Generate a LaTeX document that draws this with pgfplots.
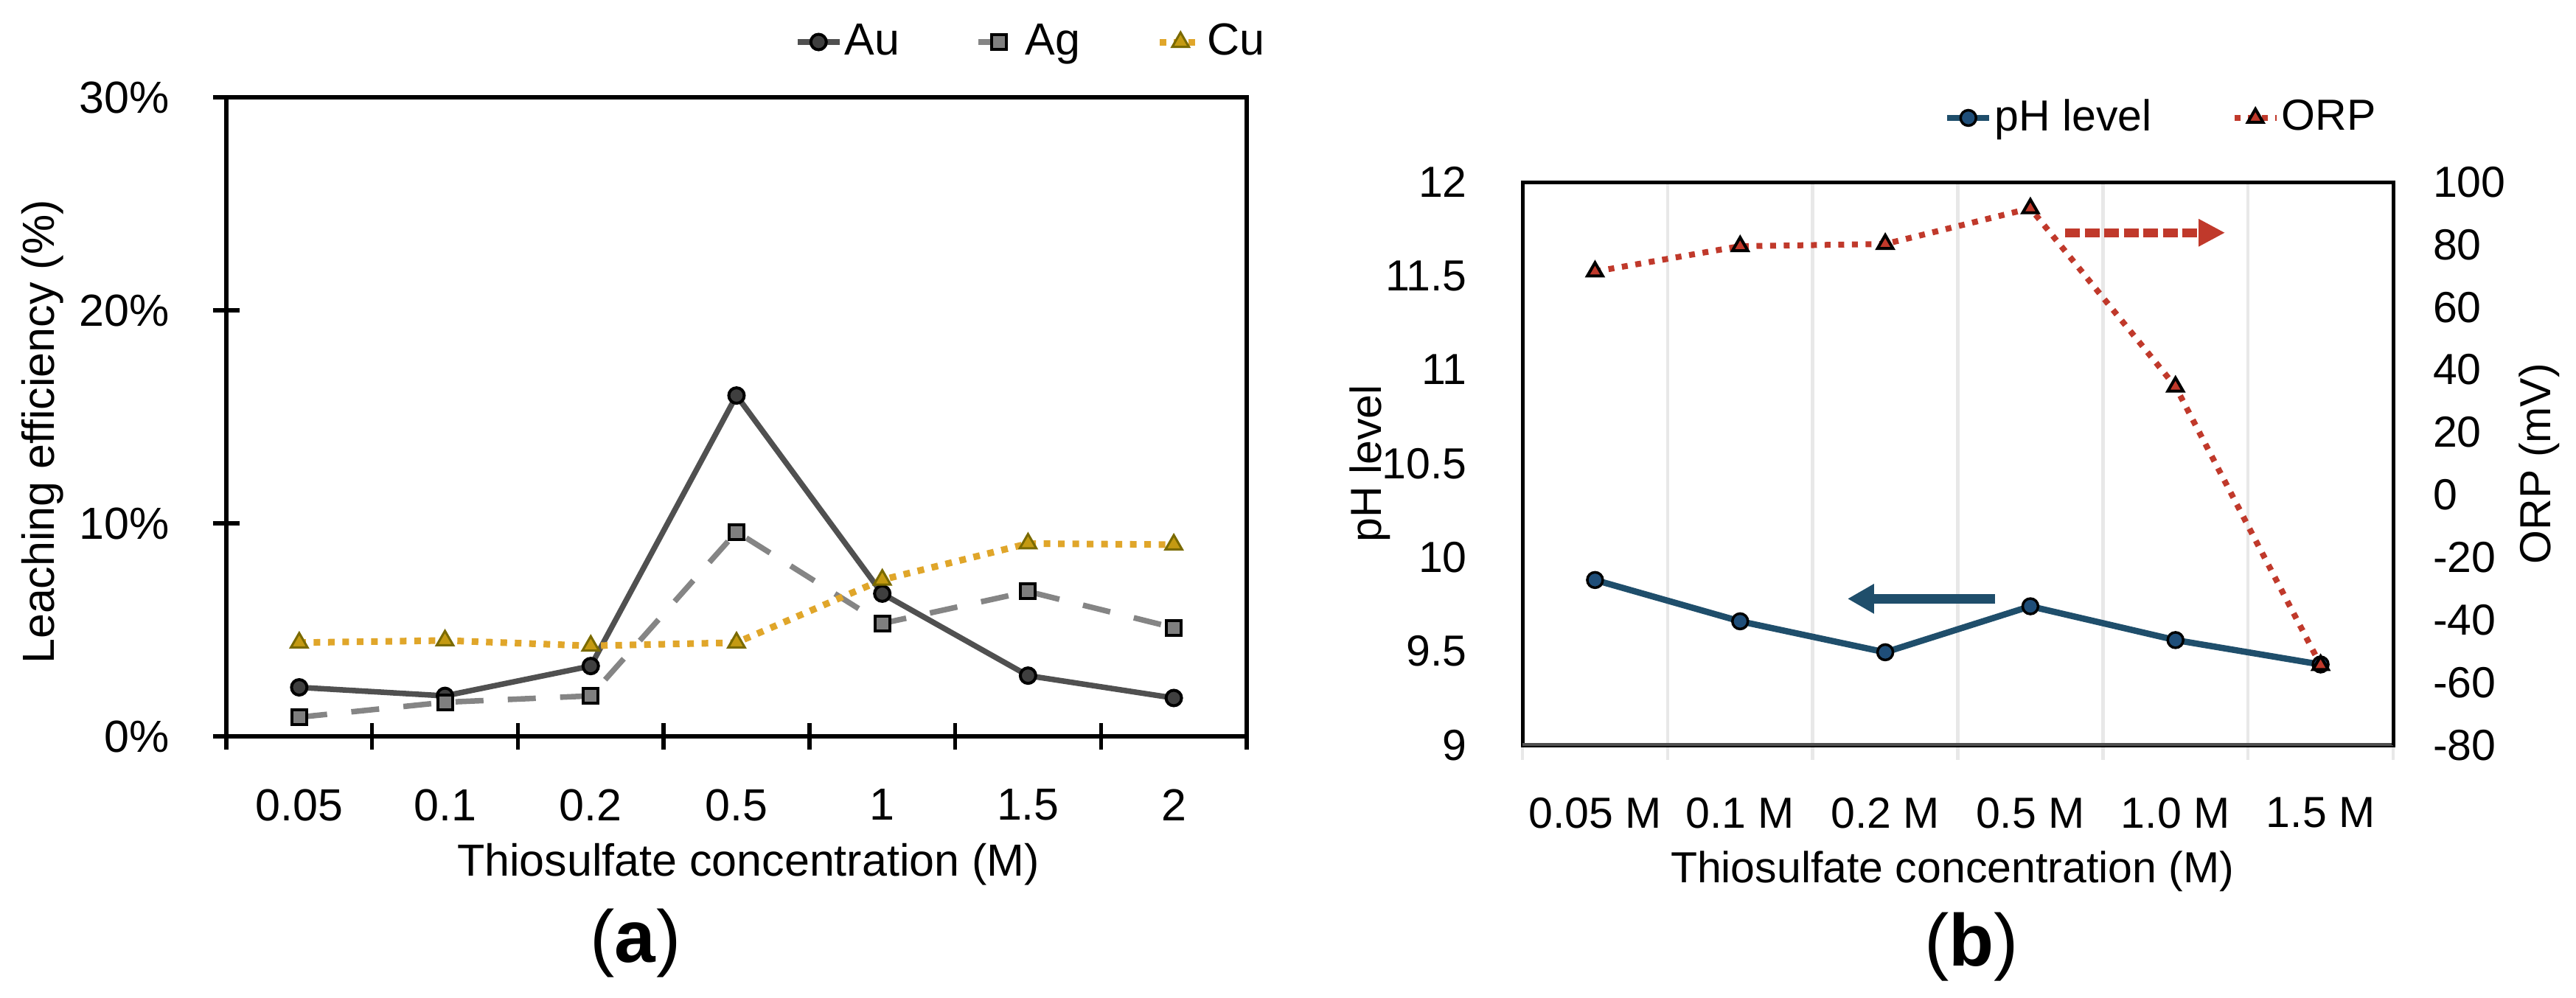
\documentclass[border=0pt]{standalone}
\usepackage{fontspec}
\setmainfont{Liberation Sans}
\usepackage{pgfplots}
\pgfplotsset{compat=1.18}
\usetikzlibrary{arrows.meta}
\definecolor{aul}{HTML}{505050}
\definecolor{auf}{HTML}{3F3F3F}
\definecolor{agl}{HTML}{858585}
\definecolor{agf}{HTML}{7F7F7F}
\definecolor{cul}{HTML}{E0A62A}
\definecolor{cuf}{HTML}{C49A12}
\definecolor{cud}{HTML}{7A6A00}
\definecolor{phc}{HTML}{1F4E6B}
\definecolor{phf}{HTML}{1F4E79}
\definecolor{orpc}{HTML}{C0392B}
\newcommand{\fa}{\fontsize{12.2}{14}\selectfont}
\newcommand{\fb}{\fontsize{11.8}{14}\selectfont}
\pgfplotsset{
  myleg/.style={legend image code/.code={\draw[mark repeat=2,mark phase=2,##1] plot coordinates {(0pt,0pt) (5.7pt,0pt) (11.4pt,0pt)};}},
}
\begin{document}
\begin{tikzpicture}
\useasboundingbox (0,0) rectangle (698.8pt,270.6pt);
% ---------------- (a) ----------------
\begin{axis}[
  at={(61.4pt,70.8pt)}, anchor=south west,
  scale only axis, width=276.8pt, height=173.4pt,
  xmin=-0.5, xmax=6.5, ymin=0, ymax=30,
  xtick={0,...,6}, xticklabels={0.05,0.1,0.2,0.5,1,1.5,2},
  minor xtick={-0.5,0.5,...,6.5},
  ytick={0,10,20,30}, yticklabels={0\%,10\%,20\%,30\%},
  xtick pos=left, ytick pos=left, tick align=center,
  major x tick style={draw=none},
  minor x tick style={black, line width=1.1pt},
  minor tick length=7.2pt, major tick length=7.2pt,
  y tick style={black, line width=1.1pt},
  axis line style={line width=1.2pt},
  /pgf/number format/assume math mode=true,
  xticklabel style={font=\fa, anchor=north, inner sep=0pt, yshift=-10.6pt},
  yticklabel style={font=\fa, anchor=east, inner sep=0pt, xshift=-11.6pt},
  xlabel={Thiosulfate concentration (M)},
  xlabel style={font=\fa, at={(axis description cs:0.5116,-0.218)}, anchor=base},
  ylabel={Leaching efficiency (\%)},
  ylabel style={font=\fa, at={(axis description cs:-0.1799,0.4763)}, anchor=center, rotate=0},
  myleg,
  legend columns=3,
  legend style={draw=none, fill=none, font=\fa, at={(rel axis cs:0.5564,1.0865)}, anchor=west,
    inner sep=0pt, nodes={inner sep=0.6pt}, cells={anchor=west},
    /tikz/every even column/.append style={column sep=20pt}},
]
\addplot[aul, line width=1.5pt, mark=*, mark size=2.1pt, mark options={fill=auf, draw=black, line width=0.8pt, solid}]
  coordinates {(0,2.3) (1,1.9) (2,3.3) (3,16.0) (4,6.7) (5,2.85) (6,1.8)};
\addlegendentry{Au}
\addplot[agl, line width=1.5pt, dash pattern=on 7.6pt off 6.6pt, mark=square*, mark size=2pt, mark options={fill=agf, draw=black, line width=0.8pt, solid}]
  coordinates {(0,0.9) (1,1.6) (2,1.9) (3,9.6) (4,5.3) (5,6.8) (6,5.1)};
\addlegendentry{Ag}
\addplot[cul, line width=1.8pt, dash pattern=on 1.8pt off 2.1pt, mark=triangle*, mark size=2.6pt, mark options={fill=cuf, draw=cud, line width=0.6pt, solid}]
  coordinates {(0,4.4) (1,4.5) (2,4.25) (3,4.4) (4,7.35) (5,9.05) (6,9.0)};
\addlegendentry{Cu}
\end{axis}
\node[font=\fontsize{20}{22}\selectfont, anchor=center] at (172.4pt,14.6pt) {(\textbf{a})};
% ---------------- (b) ----------------
\begin{axis}[
  at={(413pt,68.4pt)}, anchor=south west,
  scale only axis, width=236.2pt, height=152.8pt,
  xmin=-0.5, xmax=5.5, ymin=9, ymax=12,
  xtick={0,...,5}, xticklabels={0.05 M,0.1 M,0.2 M,0.5 M,1.0 M,1.5 M},
  minor xtick={-0.5,0.5,...,5.5},
  xminorgrids=true, minor grid style={black!9, line width=0.9pt},
  ytick={9,9.5,10,10.5,11,11.5,12}, yticklabels={9,9.5,10,10.5,11,11.5,12},
  xtick pos=left, ytick pos=left, tick align=outside,
  major x tick style={draw=none},
  minor x tick style={black!9, line width=0.9pt},
  minor tick length=4pt,
  y tick style={draw=none},
  axis line style={line width=1pt},
  /pgf/number format/assume math mode=true,
  xticklabel style={font=\fb, anchor=north, inner sep=0pt, yshift=-9.8pt},
  yticklabel style={font=\fb, anchor=east, inner sep=0pt, xshift=-10.6pt},
  xlabel={Thiosulfate concentration (M)},
  xlabel style={font=\fb, at={(axis description cs:0.4937,-0.2435)}, anchor=base},
  ylabel={pH level},
  ylabel style={font=\fb, at={(axis description cs:-0.1753,0.5)}, anchor=center, rotate=0},
]
\addplot[phc, line width=1.7pt, mark=*, mark size=2.1pt, mark options={fill=phf, draw=black, line width=0.7pt, solid}]
  coordinates {(0,9.88) (1,9.66) (2,9.495) (3,9.74) (4,9.56) (5,9.43)};
\draw[phc, line width=2.7pt, -{Triangle[length=7.2pt,width=7.6pt]}] (axis cs:2.757,9.78) -- (axis cs:1.74,9.78);
\draw[aul, line width=1.3pt] (rel axis cs:0,0) -- (rel axis cs:1,0);
\end{axis}
\begin{axis}[
  at={(413pt,68.4pt)}, anchor=south west,
  scale only axis, width=236.2pt, height=152.8pt,
  xmin=-0.5, xmax=5.5, ymin=-80, ymax=100,
  axis x line=none, axis y line*=right,
  ytick={-80,-60,...,100}, yticklabels={-80,-60,-40,-20,0,20,40,60,80,100},
  y tick style={draw=none},
  axis line style={line width=1pt},
  /pgf/number format/assume math mode=true,
  yticklabel style={font=\fb, anchor=west, inner sep=0pt, xshift=10.6pt},
  ylabel={ORP (mV)},
  ylabel style={font=\fb, at={(axis description cs:1.168,0.5)}, anchor=center, rotate=0},
  myleg,
  legend columns=2,
  legend style={draw=none, fill=none, font=\fb, at={(rel axis cs:0.4835,1.1139)}, anchor=west,
    inner sep=0pt, nodes={inner sep=0.6pt}, cells={anchor=west},
    /tikz/every even column/.append style={column sep=21pt}},
]
\addlegendimage{phc, line width=1.7pt, mark=*, mark size=2.1pt, mark options={fill=phf, draw=black, line width=0.7pt, solid}}
\addlegendentry{pH level}
\addplot[orpc, line width=1.6pt, dash pattern=on 1.6pt off 2.1pt, mark=triangle*, mark size=2.4pt, mark options={fill=orpc, draw=black, line width=0.8pt, solid}]
  coordinates {(0,71.4) (1,79.5) (2,80.2) (3,91.6) (4,34.6) (5,-54.4)};
\addlegendentry{ORP}
\draw[orpc, line width=2.4pt, dash pattern=on 4pt off 1.3pt, -{Triangle[length=7.2pt,width=7pt]}] (axis cs:3.24,83.8) -- (axis cs:4.342,83.8);
\end{axis}
\node[font=\fontsize{20}{22}\selectfont, anchor=center] at (534.8pt,13.6pt) {(\textbf{b})};
\end{tikzpicture}
\end{document}
